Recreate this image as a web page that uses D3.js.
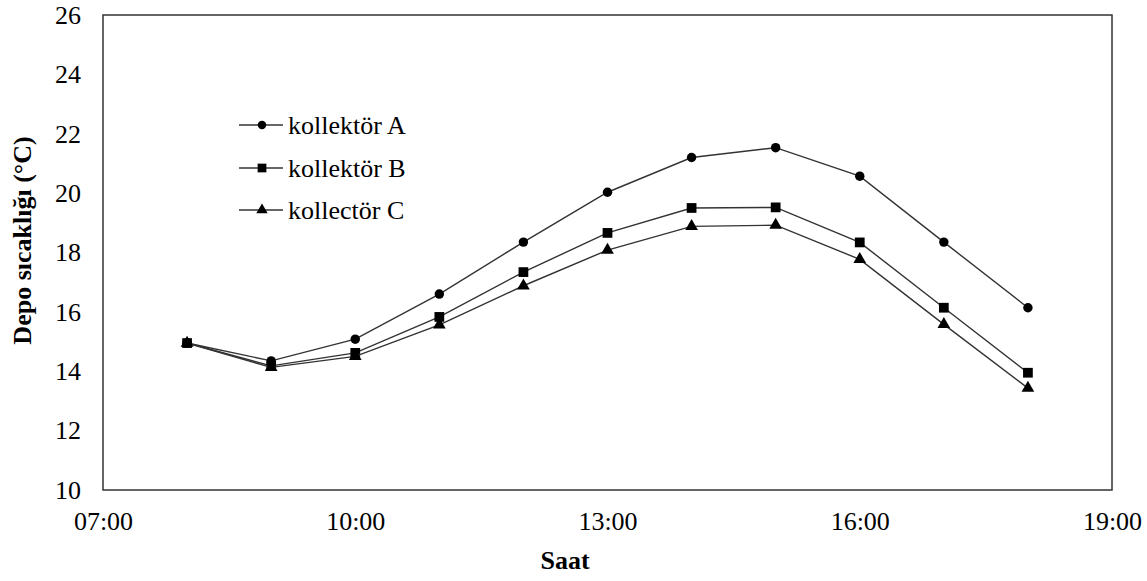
<!DOCTYPE html>
<html><head><meta charset="utf-8">
<script src="https://cdn.jsdelivr.net/npm/d3@7"></script>
<style>body{margin:0;background:#fff}svg{display:block}text{font-family:"Liberation Serif","Times New Roman",serif;fill:#000}</style>
</head><body><svg id="c" width="1147" height="581"></svg>
<script>
const hours = [8,9,10,11,12,13,14,15,16,17,18];
const seriesA = [14.95,14.35,15.08,16.6,18.35,20.03,21.2,21.53,20.57,18.35,16.14];
const seriesB = [14.95,14.18,14.62,15.83,17.34,18.66,19.5,19.52,18.34,16.14,13.95];
const seriesC = [14.95,14.13,14.5,15.56,16.88,18.08,18.88,18.92,17.77,15.58,13.43];
const seriesNames = ["kollektör A","kollektör B","kollectör C"];
const xTicks = [7,10,13,16,19];
const yTicks = [10,12,14,16,18,20,22,24,26];

const svg = d3.select("#c");
const L=103,R=1112,T=15,B=490;
const x = d3.scaleLinear().domain([7,19]).range([L,R]);
const y = d3.scaleLinear().domain([10,26]).range([B,T]);
const fmt = h => (h<10?"0":"")+h+":00";

svg.append("rect").attr("x",L).attr("y",T).attr("width",R-L).attr("height",B-T)
  .attr("fill","none").attr("stroke","#333").attr("stroke-width",1.5);

const ya = svg.append("g").attr("transform",`translate(${L},0)`)
  .call(d3.axisLeft(y).tickValues(yTicks).tickSize(0).tickPadding(22));
ya.select(".domain").remove();
ya.selectAll("text").attr("font-size",26).attr("fill","#000");

const xa = svg.append("g").attr("transform",`translate(0,${B})`)
  .call(d3.axisBottom(x).tickValues(xTicks).tickFormat(fmt).tickSize(0).tickPadding(22));
xa.select(".domain").remove();
xa.selectAll("text").attr("font-size",26).attr("fill","#000");

svg.append("text").attr("x",565).attr("y",569).attr("text-anchor","middle")
  .attr("font-size",26).attr("font-weight","bold").text("Saat");
svg.append("text").attr("transform",`translate(31,${(T+B)/2-12}) rotate(-90)`).attr("text-anchor","middle")
  .attr("font-size",26).attr("font-weight","bold").text("Depo sıcaklığı (°C)");

const data = [seriesA,seriesB,seriesC];
const shapes = [d3.symbolCircle,d3.symbolSquare,d3.symbolTriangle];
const sizes = [70,95,70];
const line = d3.line().x((d,i)=>x(hours[i])).y(d=>y(d));
data.forEach((s,k)=>{
  svg.append("path").attr("d",line(s)).attr("fill","none").attr("stroke","#333").attr("stroke-width",1.4);
  svg.selectAll(null).data(s).enter().append("path")
    .attr("d",d3.symbol().type(shapes[k]).size(sizes[k]))
    .attr("transform",(d,i)=>`translate(${x(hours[i])},${y(d)})`).attr("fill","#000");
});

const lg = [125,168,210];
seriesNames.forEach((n,k)=>{
  svg.append("line").attr("x1",239).attr("x2",283).attr("y1",lg[k]).attr("y2",lg[k]).attr("stroke","#333").attr("stroke-width",1.4);
  svg.append("path").attr("d",d3.symbol().type(shapes[k]).size(sizes[k]*0.8)).attr("transform",`translate(262,${lg[k]})`).attr("fill","#000");
  svg.append("text").attr("x",288).attr("y",lg[k]+9).attr("font-size",26).text(n);
});
</script></body></html>
